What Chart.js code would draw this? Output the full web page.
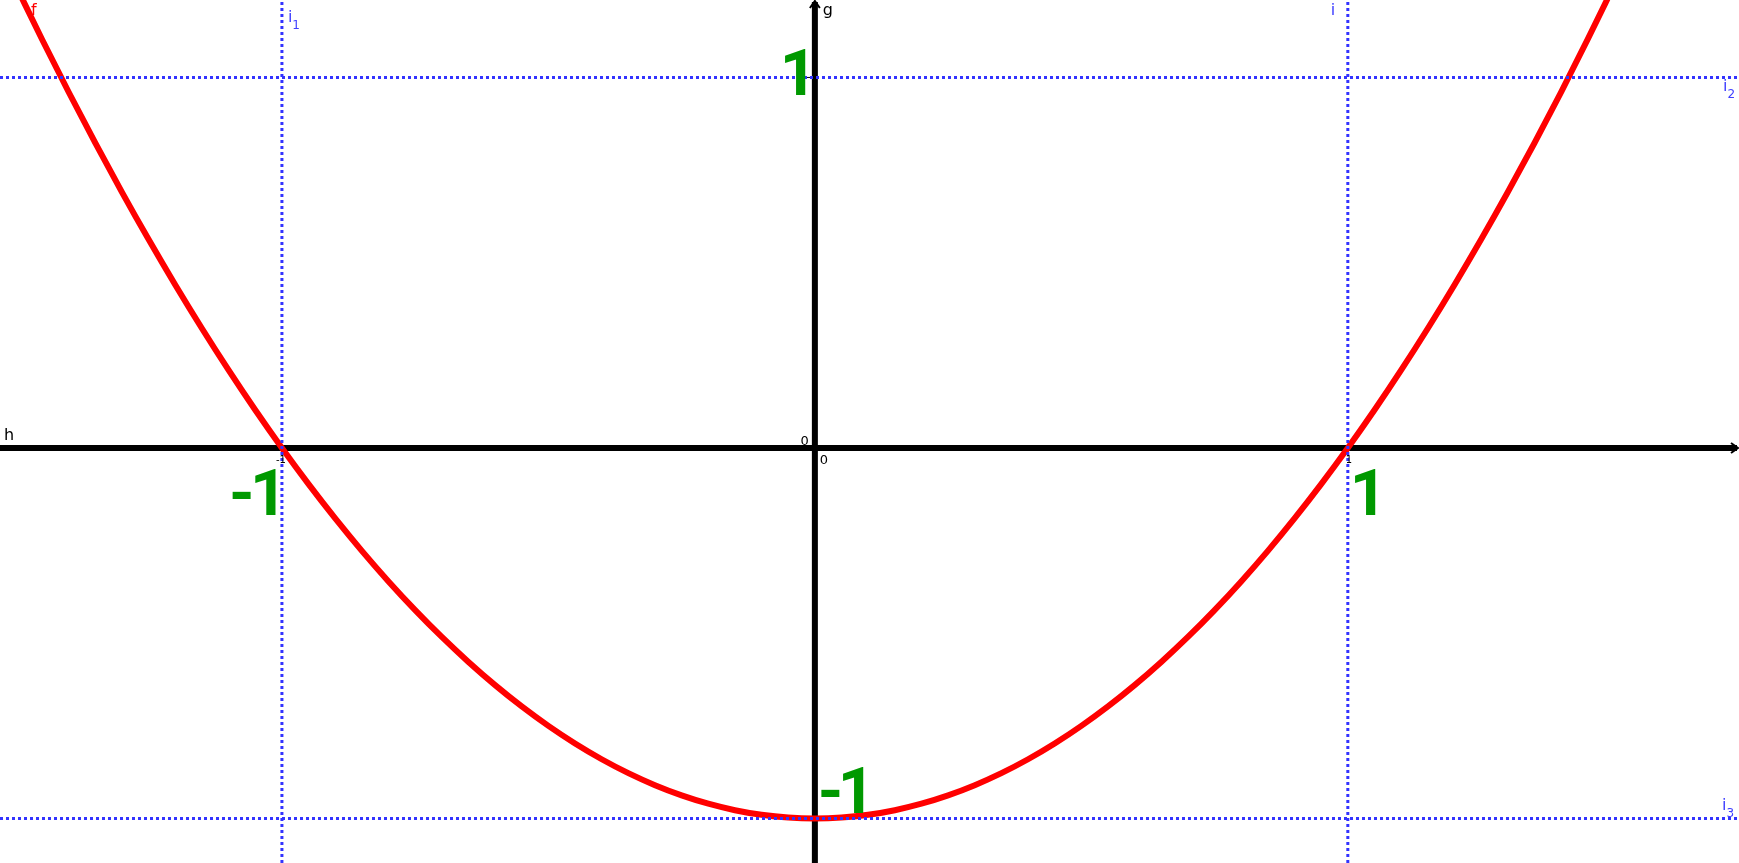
<!DOCTYPE html>
<html>
<head>
<meta charset="utf-8">
<script src="https://cdn.jsdelivr.net/npm/chart.js@4"></script>
<style>
  html, body { margin: 0; padding: 0; background: #ffffff; overflow: hidden; }
  #wrap { position: relative; width: 1739px; height: 863px; }
</style>
</head>
<body>
<div id="wrap"><canvas id="graph"></canvas></div>
<script>
// view window (graph units)
const xRange = [-1.529, 1.734];
const yRange = [-1.120, 1.209];

// points of f
const xValues = [-1.5, -1.45, -1.4, -1.35, -1.3, -1.25, -1.2, -1.15, -1.1, -1.05, -1.0,
  -0.95, -0.9, -0.85, -0.8, -0.75, -0.7, -0.65, -0.6, -0.55, -0.5,
  -0.45, -0.4, -0.35, -0.3, -0.25, -0.2, -0.15, -0.1, -0.05, 0,
  0.05, 0.1, 0.15, 0.2, 0.25, 0.3, 0.35, 0.4, 0.45, 0.5,
  0.55, 0.6, 0.65, 0.7, 0.75, 0.8, 0.85, 0.9, 0.95, 1.0,
  1.05, 1.1, 1.15, 1.2, 1.25, 1.3, 1.35, 1.4, 1.45, 1.5];
const yValues = [1.25, 1.1025, 0.96, 0.8225, 0.69, 0.5625, 0.44, 0.3225, 0.21, 0.1025, 0,
  -0.0975, -0.19, -0.2775, -0.36, -0.4375, -0.51, -0.5775, -0.64, -0.6975, -0.75,
  -0.7975, -0.84, -0.8775, -0.91, -0.9375, -0.96, -0.9775, -0.99, -0.9975, -1,
  -0.9975, -0.99, -0.9775, -0.96, -0.9375, -0.91, -0.8775, -0.84, -0.7975, -0.75,
  -0.6975, -0.64, -0.5775, -0.51, -0.4375, -0.36, -0.2775, -0.19, -0.0975, 0,
  0.1025, 0.21, 0.3225, 0.44, 0.5625, 0.69, 0.8225, 0.96, 1.1025, 1.25];

// dotted guide lines
const guideX = [-1, 1];      // i1, i
const guideY = [1, -1];      // i2, i3

// big green labels (value shown at each marked point)
const markText = ["1", "-1", "1", "-1"];

const curvePoints = xValues.map((x, i) => ({ x: x, y: yValues[i] }));

const datasets = [
  {
    data: curvePoints,
    showLine: true,
    borderColor: "#ff0000",
    borderWidth: 6,
    pointRadius: 0,
    cubicInterpolationMode: "monotone",
    order: 2,
  },
];
guideX.forEach((v) => {
  datasets.push({
    data: [{ x: v, y: yRange[0] }, { x: v, y: yRange[1] }],
    showLine: true,
    borderColor: "#3333ff",
    borderWidth: 3,
    borderDash: [3, 3],
    pointRadius: 0,
    order: 1,
  });
});
guideY.forEach((v) => {
  datasets.push({
    data: [{ x: xRange[0], y: v }, { x: xRange[1], y: v }],
    showLine: true,
    borderColor: "#3333ff",
    borderWidth: 3,
    borderDash: [3, 3],
    pointRadius: 0,
    order: 1,
  });
});

const bigFont = "bold 65px Roboto, 'Liberation Sans', sans-serif";

//Ejes con flechas, dibujados debajo de las curvas
const axesPlugin = {
  id: "axes",
  beforeDatasetsDraw(chart) {
    const { ctx, scales } = chart;
    const px = (v) => scales.x.getPixelForValue(v);
    const py = (v) => scales.y.getPixelForValue(v);
    const x0 = px(0), y0 = py(0);
    const w = chart.width, h = chart.height;
    ctx.save();
    ctx.strokeStyle = "#000000";
    ctx.lineWidth = 6;
    ctx.beginPath();
    ctx.moveTo(0, y0); ctx.lineTo(w - 2, y0);
    ctx.moveTo(x0, h); ctx.lineTo(x0, 2);
    ctx.stroke();
    // arrow heads
    ctx.lineWidth = 2;
    ctx.beginPath();
    ctx.moveTo(w - 8, y0 - 5); ctx.lineTo(w - 1, y0); ctx.lineTo(w - 8, y0 + 5);
    ctx.moveTo(x0 - 5, 8); ctx.lineTo(x0, 1); ctx.lineTo(x0 + 5, 8);
    ctx.stroke();
    // small ticks
    ctx.lineWidth = 1;
    ctx.beginPath();
    [-1, 1].forEach((v) => { ctx.moveTo(px(v), y0); ctx.lineTo(px(v), y0 + 8); });
    [-1, 1].forEach((v) => { ctx.moveTo(x0, py(v)); ctx.lineTo(x0 - 8, py(v)); });
    ctx.stroke();
    ctx.restore();
  },
  afterDatasetsDraw(chart) {
    const { ctx, scales } = chart;
    const px = (v) => scales.x.getPixelForValue(v);
    const py = (v) => scales.y.getPixelForValue(v);
    const x0 = px(0), y0 = py(0);
    ctx.save();
    ctx.textBaseline = "alphabetic";

    // small names
    const small = (txt, sub, x, y, color) => {
      ctx.fillStyle = color;
      ctx.font = "16px 'DejaVu Sans'";
      ctx.textAlign = "left";
      ctx.fillText(txt, x, y);
      if (sub) {
        const wd = ctx.measureText(txt).width;
        ctx.font = "12px 'DejaVu Sans'";
        ctx.fillText(sub, x + wd, y + 7);
      }
    };
    small("f", "", 31, 15, "#ff0000");
    small("g", "", x0 + 8, 15, "#000000");
    small("h", "", 4, y0 - 8, "#000000");
    small("i", "1", px(-1) + 6, py(1) - 55, "#4040ff");
    small("i", "", px(1) - 17, 15, "#4040ff");
    small("i", "2", 1723, py(1) + 14, "#4040ff");
    small("i", "3", 1722, py(-1) - 9, "#4040ff");

    // zero and tick labels
    ctx.fillStyle = "#000000";
    ctx.font = "13px 'DejaVu Sans'";
    ctx.textAlign = "right";
    ctx.fillText("0", x0 - 6, y0 - 3);
    ctx.textAlign = "left";
    ctx.fillText("0", x0 + 5, y0 + 16);
    ctx.font = "10px 'DejaVu Sans'";
    ctx.textAlign = "center";
    ctx.fillText("-1", px(-1) - 1, y0 + 15);
    ctx.fillText("1", px(1) + 1, y0 + 15);

    // big green labels, placed by ink box: each glyph's left ink edge
    ctx.fillStyle = "#009900";
    ctx.font = bigFont;
    ctx.textAlign = "left";
    const ink = (ch, left, base) => {
      const m = ctx.measureText(ch);
      ctx.fillText(ch, left + m.actualBoundingBoxLeft, base);
    };
    const inkLeft = [[x0 - 30], [px(-1) - 50, px(-1) - 27], [px(1) + 7], [x0 + 6, x0 + 28]];
    const base = [py(1) + 18, y0 + 67, y0 + 67, py(-1) - 6];
    markText.forEach((t, i) => {
      t.split("").forEach((ch, j) => ink(ch, inkLeft[i][j], base[i]));
    });
    ctx.restore();
  },
};

const myChart = new Chart(document.getElementById("graph"), {
  type: "scatter",
  data: { datasets: datasets },
  plugins: [axesPlugin],
  options: {
    responsive: true,
    maintainAspectRatio: false,
    animation: false,
    layout: { padding: 0 },
    plugins: { legend: { display: false }, tooltip: { enabled: false } },
    scales: {
      x: { type: "linear", display: false, min: xRange[0], max: xRange[1] },
      y: { type: "linear", display: false, min: yRange[0], max: yRange[1] },
    },
  },
});

document.fonts.load(bigFont, "-1").then(() => myChart.draw());
</script>
</body>
</html>
